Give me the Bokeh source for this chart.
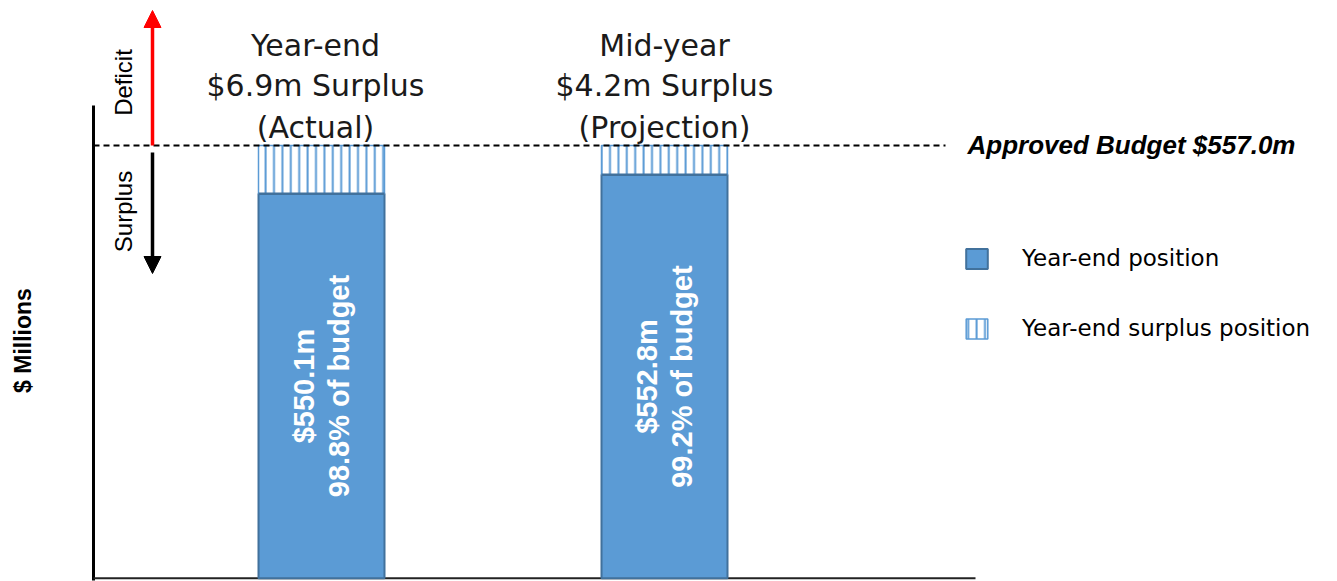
import math
from bokeh.plotting import figure
from bokeh.models import Range1d, Arrow, NormalHead, Legend, LegendItem
from bokeh.core.properties import value
from bokeh.embed import file_html
from bokeh.resources import INLINE

# ---- data ----
BUDGET = 557.0
categories = ["Year-end", "Mid-year"]
status = ["(Actual)", "(Projection)"]
spend = [550.1, 552.8]
legend_labels = ["Year-end position", "Year-end surplus position"]

# ---- layout ----
W, H = 1337, 581
Y_START, Y_END = 494.7, 577.7
BASE = 495.15
bar_x = [321, 664]
BAR_W = 126


def sy(px):
    """screen pixel (from top) -> data value (for decorations only)"""
    return Y_END - px * (Y_END - Y_START) / H


surplus = [BUDGET - v for v in spend]
pct = [v / BUDGET * 100 for v in spend]

p = figure(width=W, height=H, x_range=Range1d(0, W), y_range=Range1d(Y_START, Y_END),
           output_backend="svg", toolbar_location=None,
           x_axis_location=None, y_axis_location=None, min_border=0,
           outline_line_color=None, background_fill_color="white")
p.grid.visible = False

BLUE = "#5b9bd5"
DARK = "#41719c"

# axis lines
p.segment(x0=[93], y0=[sy(105)], x1=[93], y1=[sy(580)], line_color="black", line_width=3)
p.segment(x0=[93], y0=[BASE], x1=[975], y1=[BASE], line_color="#222222", line_width=2)

# bars
blue = p.vbar(x=bar_x, width=BAR_W, bottom=BASE, top=spend, fill_color=BLUE,
              line_color=DARK, line_width=2)
hatch = p.vbar(x=bar_x, width=BAR_W, bottom=spend, top=BUDGET, fill_color="white",
               hatch_pattern="vertical_line", hatch_color=BLUE, hatch_scale=8.4,
               hatch_weight=2, line_color=BLUE, line_width=1.5)
# dividing line at top of blue bars
p.segment(x0=[x - BAR_W / 2 for x in bar_x], y0=spend, x1=[x + BAR_W / 2 for x in bar_x],
          y1=spend, line_color=DARK, line_width=2.5)

# budget line
p.segment(x0=[93], y0=[BUDGET], x1=[945], y1=[BUDGET], line_color="black",
          line_width=2, line_dash="6 4")
p.text(x=[967], y=[BUDGET], text=[f"Approved Budget ${BUDGET:.1f}m"],
       text_font=value("Liberation Sans"), text_font_style="bold italic",
       text_font_size="26px", text_align="left", text_baseline="middle", text_color="black")

# titles above bars
title_lines = [categories, [f"${s:.1f}m Surplus" for s in surplus], status]
for line, ypx in zip(title_lines, [45, 85, 127]):
    p.text(x=bar_x, y=[sy(ypx)] * len(bar_x), x_offset=[-6, 0], text=line,
           text_font=value("DejaVu Sans"), text_font_size="30px",
           text_align="center", text_baseline="middle", text_color="#1a1a1a")

# labels inside bars
mid = [(BASE + v) / 2 for v in spend]
p.text(x=bar_x, y=mid, x_offset=-18, text=[f"${v:.1f}m" for v in spend], angle=math.pi / 2,
       text_font=value("Liberation Sans"), text_font_style="bold", text_font_size="29px",
       text_align="center", text_baseline="middle", text_color="white")
p.text(x=bar_x, y=mid, x_offset=17, text=[f"{q:.1f}% of budget" for q in pct], angle=math.pi / 2,
       text_font=value("Liberation Sans"), text_font_style="bold", text_font_size="29px",
       text_align="center", text_baseline="middle", text_color="white")

# deficit / surplus arrows
p.add_layout(Arrow(x_start=152, y_start=BUDGET, x_end=152, y_end=sy(10), line_color="red",
                   line_width=3.5, end=NormalHead(size=17, fill_color="red", line_color="red")))
p.add_layout(Arrow(x_start=152, y_start=sy(152), x_end=152, y_end=sy(273), line_color="black",
                   line_width=3.5, end=NormalHead(size=17, fill_color="black", line_color="black")))
p.text(x=[123, 123], y=[sy(82), sy(211)], text=["Deficit", "Surplus"], angle=math.pi / 2,
       text_font=value("Liberation Sans"), text_font_size="24px",
       text_align="center", text_baseline="middle", text_color="black")

# y-axis title
p.text(x=[22], y=[sy(340)], text=["$ Millions"], angle=math.pi / 2,
       text_font=value("Liberation Sans"), text_font_style="bold", text_font_size="23px",
       text_align="center", text_baseline="middle", text_color="black")

legend = Legend(items=[LegendItem(label=legend_labels[0], renderers=[blue]),
                       LegendItem(label=legend_labels[1], renderers=[hatch])],
                location=(963, 240), glyph_width=27, glyph_height=25, label_standoff=32,
                spacing=44, padding=0, margin=0, border_line_color=None,
                background_fill_alpha=0, label_text_font="DejaVu Sans",
                label_text_font_size="23px", label_text_color="black")
p.add_layout(legend)

open("out.html", "w").write(file_html(p, INLINE))
